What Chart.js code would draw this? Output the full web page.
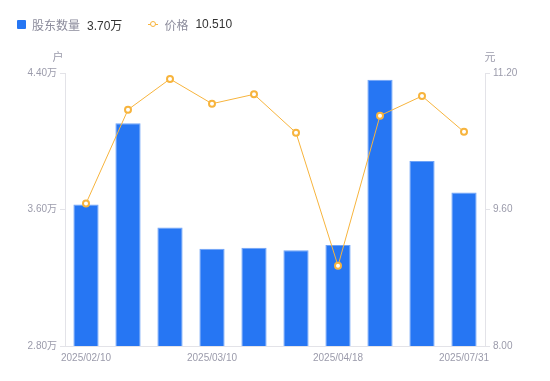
<!DOCTYPE html>
<html><head><meta charset="utf-8">
<script src="https://cdn.jsdelivr.net/npm/chart.js@4/dist/chart.umd.min.js"></script>
<style>
html,body{margin:0;padding:0;background:#fff;}
#wrap{position:relative;width:550px;height:381px;font-family:"Liberation Sans","Noto Sans CJK SC",sans-serif;}
canvas{position:absolute;left:0;top:0;}
#legend{position:absolute;left:17px;top:16px;font-size:12px;display:flex;align-items:center;height:16px;}
.lg{display:flex;align-items:center;margin-right:26px;}
.sq{width:9px;height:9px;background:#2676f3;border-radius:1px;margin-right:6px;}
.ln{position:relative;width:10px;height:10px;margin-right:6px;}
.ln:before{content:"";position:absolute;left:0;right:0;top:4.5px;height:1px;background:#f7b43d;}
.ln:after{content:"";position:absolute;left:2px;top:2px;width:4px;height:4px;border:1.5px solid #f7b43d;border-radius:50%;background:#fff;}
.nm{color:#8c8c9c;margin-right:7px;}
.vl{color:#333;}
</style></head>
<body><div id="wrap"><canvas id="c" width="550" height="381"></canvas>
<div id="legend"></div></div>
<script>
const categories = ["2025/02/10","2025/02/20","2025/02/28","2025/03/10","2025/03/20","2025/03/31","2025/04/18","2025/05/20","2025/06/30","2025/07/31"];
const holders = [3.63, 4.105, 3.495, 3.37, 3.376, 3.361, 3.392, 4.361, 3.884, 3.70];
const prices = [9.67, 10.77, 11.13, 10.84, 10.95, 10.50, 8.94, 10.70, 10.93, 10.51];
const leftTicks = [2.80, 3.60, 4.40];
const rightTicks = [8.00, 9.60, 11.20];
const shownLabels = [0, 3, 6, 9];

document.getElementById('legend').innerHTML =
  '<div class="lg"><div class="sq"></div><span class="nm">股东数量</span><span class="vl">' + holders[holders.length-1].toFixed(2) + '万</span></div>' +
  '<div class="lg"><div class="ln"></div><span class="nm">价格</span><span class="vl">' + prices[prices.length-1].toFixed(3) + '</span></div>';

const tickColor = '#9b9bab';
const lineColor = '#e3e3e8';
const font = {family: '"Liberation Sans","Noto Sans CJK SC",sans-serif', size: 10};

const titles = {
  id: 'axisTitles',
  afterDraw(chart) {
    const ctx = chart.ctx, a = chart.chartArea;
    ctx.save();
    ctx.fillStyle = tickColor;
    ctx.font = '11px "Noto Sans CJK SC", sans-serif';
    ctx.textAlign = 'center';
    ctx.textBaseline = 'middle';
    ctx.fillText('户', a.left - 7, a.top - 16);
    ctx.fillText('元', a.right + 5, a.top - 16);
    ctx.restore();
  }
};

new Chart(document.getElementById('c'), {
  data: {
    labels: categories,
    datasets: [
      {type: 'line', label: '价格', data: prices, yAxisID: 'y1', borderColor: '#f7b43d', borderWidth: 1,
       pointRadius: 3, pointBorderWidth: 2, pointBackgroundColor: '#fff', pointBorderColor: '#f7b43d', tension: 0, order: 0},
      {type: 'bar', label: '股东数量', data: holders, yAxisID: 'y', backgroundColor: '#2676f3',
       borderColor: '#6fa3f7', borderWidth: {top: 1, left: 1, right: 1, bottom: 0}, categoryPercentage: 0.6, barPercentage: 1, order: 1}
    ]
  },
  plugins: [titles],
  options: {
    responsive: false, animation: false,
    layout: {padding: {top: 73, left: 0, right: 0, bottom: 0}},
    plugins: {legend: {display: false}, tooltip: {enabled: false}},
    scales: {
      x: {
        grid: {display: true, drawOnChartArea: false, drawTicks: false},
        border: {display: true, color: lineColor},
        ticks: {color: tickColor, font: font, padding: 6, autoSkip: false, maxRotation: 0,
          callback: function(v, i) { return shownLabels.includes(i) ? categories[i] : ''; }},
        afterFit(s) { s.height = 35; }
      },
      y: {
        position: 'left', min: leftTicks[0], max: leftTicks[2],
        afterBuildTicks(s) { s.ticks = leftTicks.map(v => ({value: v})); },
        grid: {drawOnChartArea: false, drawTicks: true, tickLength: 5, color: lineColor},
        border: {display: true, color: lineColor},
        ticks: {color: tickColor, font: font, padding: 3, callback: v => v.toFixed(2) + '万'},
        afterFit(s) { s.width = 65; }
      },
      y1: {
        position: 'right', min: rightTicks[0], max: rightTicks[2],
        afterBuildTicks(s) { s.ticks = rightTicks.map(v => ({value: v})); },
        grid: {drawOnChartArea: false, drawTicks: true, tickLength: 5, color: lineColor},
        border: {display: true, color: lineColor},
        ticks: {color: tickColor, font: font, padding: 3, callback: v => v.toFixed(2)},
        afterFit(s) { s.width = 65; }
      }
    }
  }
});
</script></body></html>
